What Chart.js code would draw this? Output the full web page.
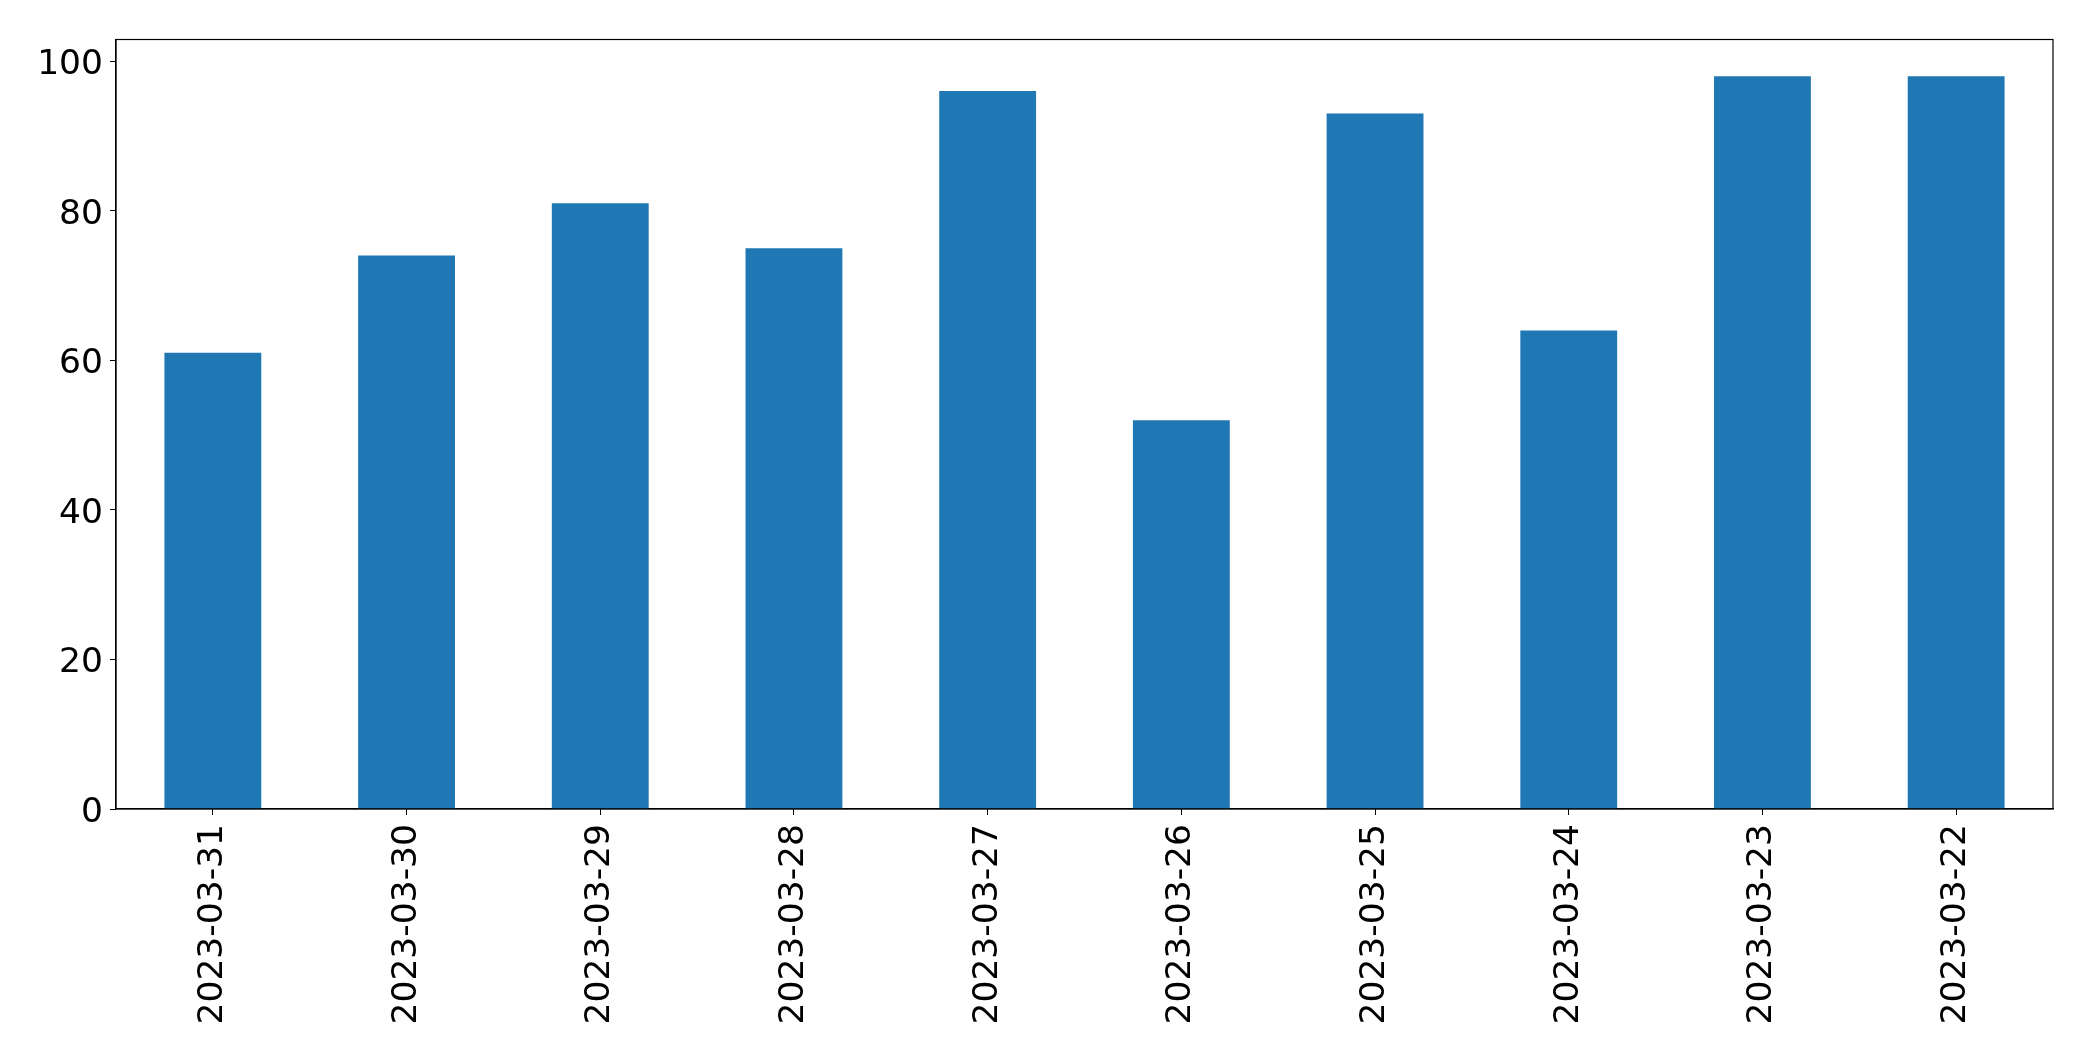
<!DOCTYPE html>
<html>
<head>
<meta charset="utf-8">
<script src="https://cdn.jsdelivr.net/npm/chart.js@4/dist/chart.umd.min.js"></script>
<style>
  html, body { margin: 0; padding: 0; background: #fff; }
  #wrap { width: 2093px; height: 1061px; }
</style>
</head>
<body>
<div id="wrap"><canvas id="chart" width="2093" height="1061"></canvas></div>
<script>
// dados do gráfico
const dates = ['2023-03-31', '2023-03-30', '2023-03-29', '2023-03-28', '2023-03-27',
               '2023-03-26', '2023-03-25', '2023-03-24', '2023-03-23', '2023-03-22'];
const values = [61, 74, 81, 75, 96, 52, 93, 64, 98, 98];
const yTicks = [0, 20, 40, 60, 80, 100];

// moldura em volta da área do gráfico
const frame = {
  id: 'frame',
  afterDraw(chart) {
    const a = chart.chartArea;
    const ctx = chart.ctx;
    ctx.save();
    ctx.strokeStyle = '#000';
    ctx.lineWidth = 1.2;
    ctx.strokeRect(a.left, a.top, a.right - a.left, a.bottom - a.top);
    ctx.restore();
  }
};

Chart.defaults.font.family = 'DejaVu Sans';

new Chart(document.getElementById('chart'), {
  type: 'bar',
  data: {
    labels: dates,
    datasets: [{
      data: values,
      backgroundColor: '#1f77b4',
      barPercentage: 0.5,
      categoryPercentage: 1.0
    }]
  },
  options: {
    responsive: false,
    animation: false,
    layout: { padding: { left: 0, top: 39.5, right: 40, bottom: 0 } },
    plugins: { legend: { display: false }, tooltip: { enabled: false } },
    scales: {
      x: {
        offset: true,
        grid: { drawOnChartArea: false, drawTicks: true, tickLength: 6, color: '#000', offset: false },
        border: { display: true, color: '#000', width: 1.2 },
        ticks: {
          color: '#000',
          font: { size: 34.5 },
          minRotation: 90,
          maxRotation: 90,
          padding: 9,
          autoSkip: false
        },
        afterFit(scale) { scale.height = 252; }
      },
      y: {
        min: 0,
        max: 102.9,
        grid: { drawOnChartArea: false, drawTicks: true, tickLength: 6, color: '#000' },
        border: { display: true, color: '#000', width: 1.2 },
        ticks: { color: '#000', font: { size: 34.5 }, padding: 7, labelOffset: 4 },
        afterBuildTicks(scale) { scale.ticks = yTicks.map(v => ({ value: v })); },
        afterFit(scale) { scale.width = 116; }
      }
    }
  },
  plugins: [frame]
});
</script>
</body>
</html>
